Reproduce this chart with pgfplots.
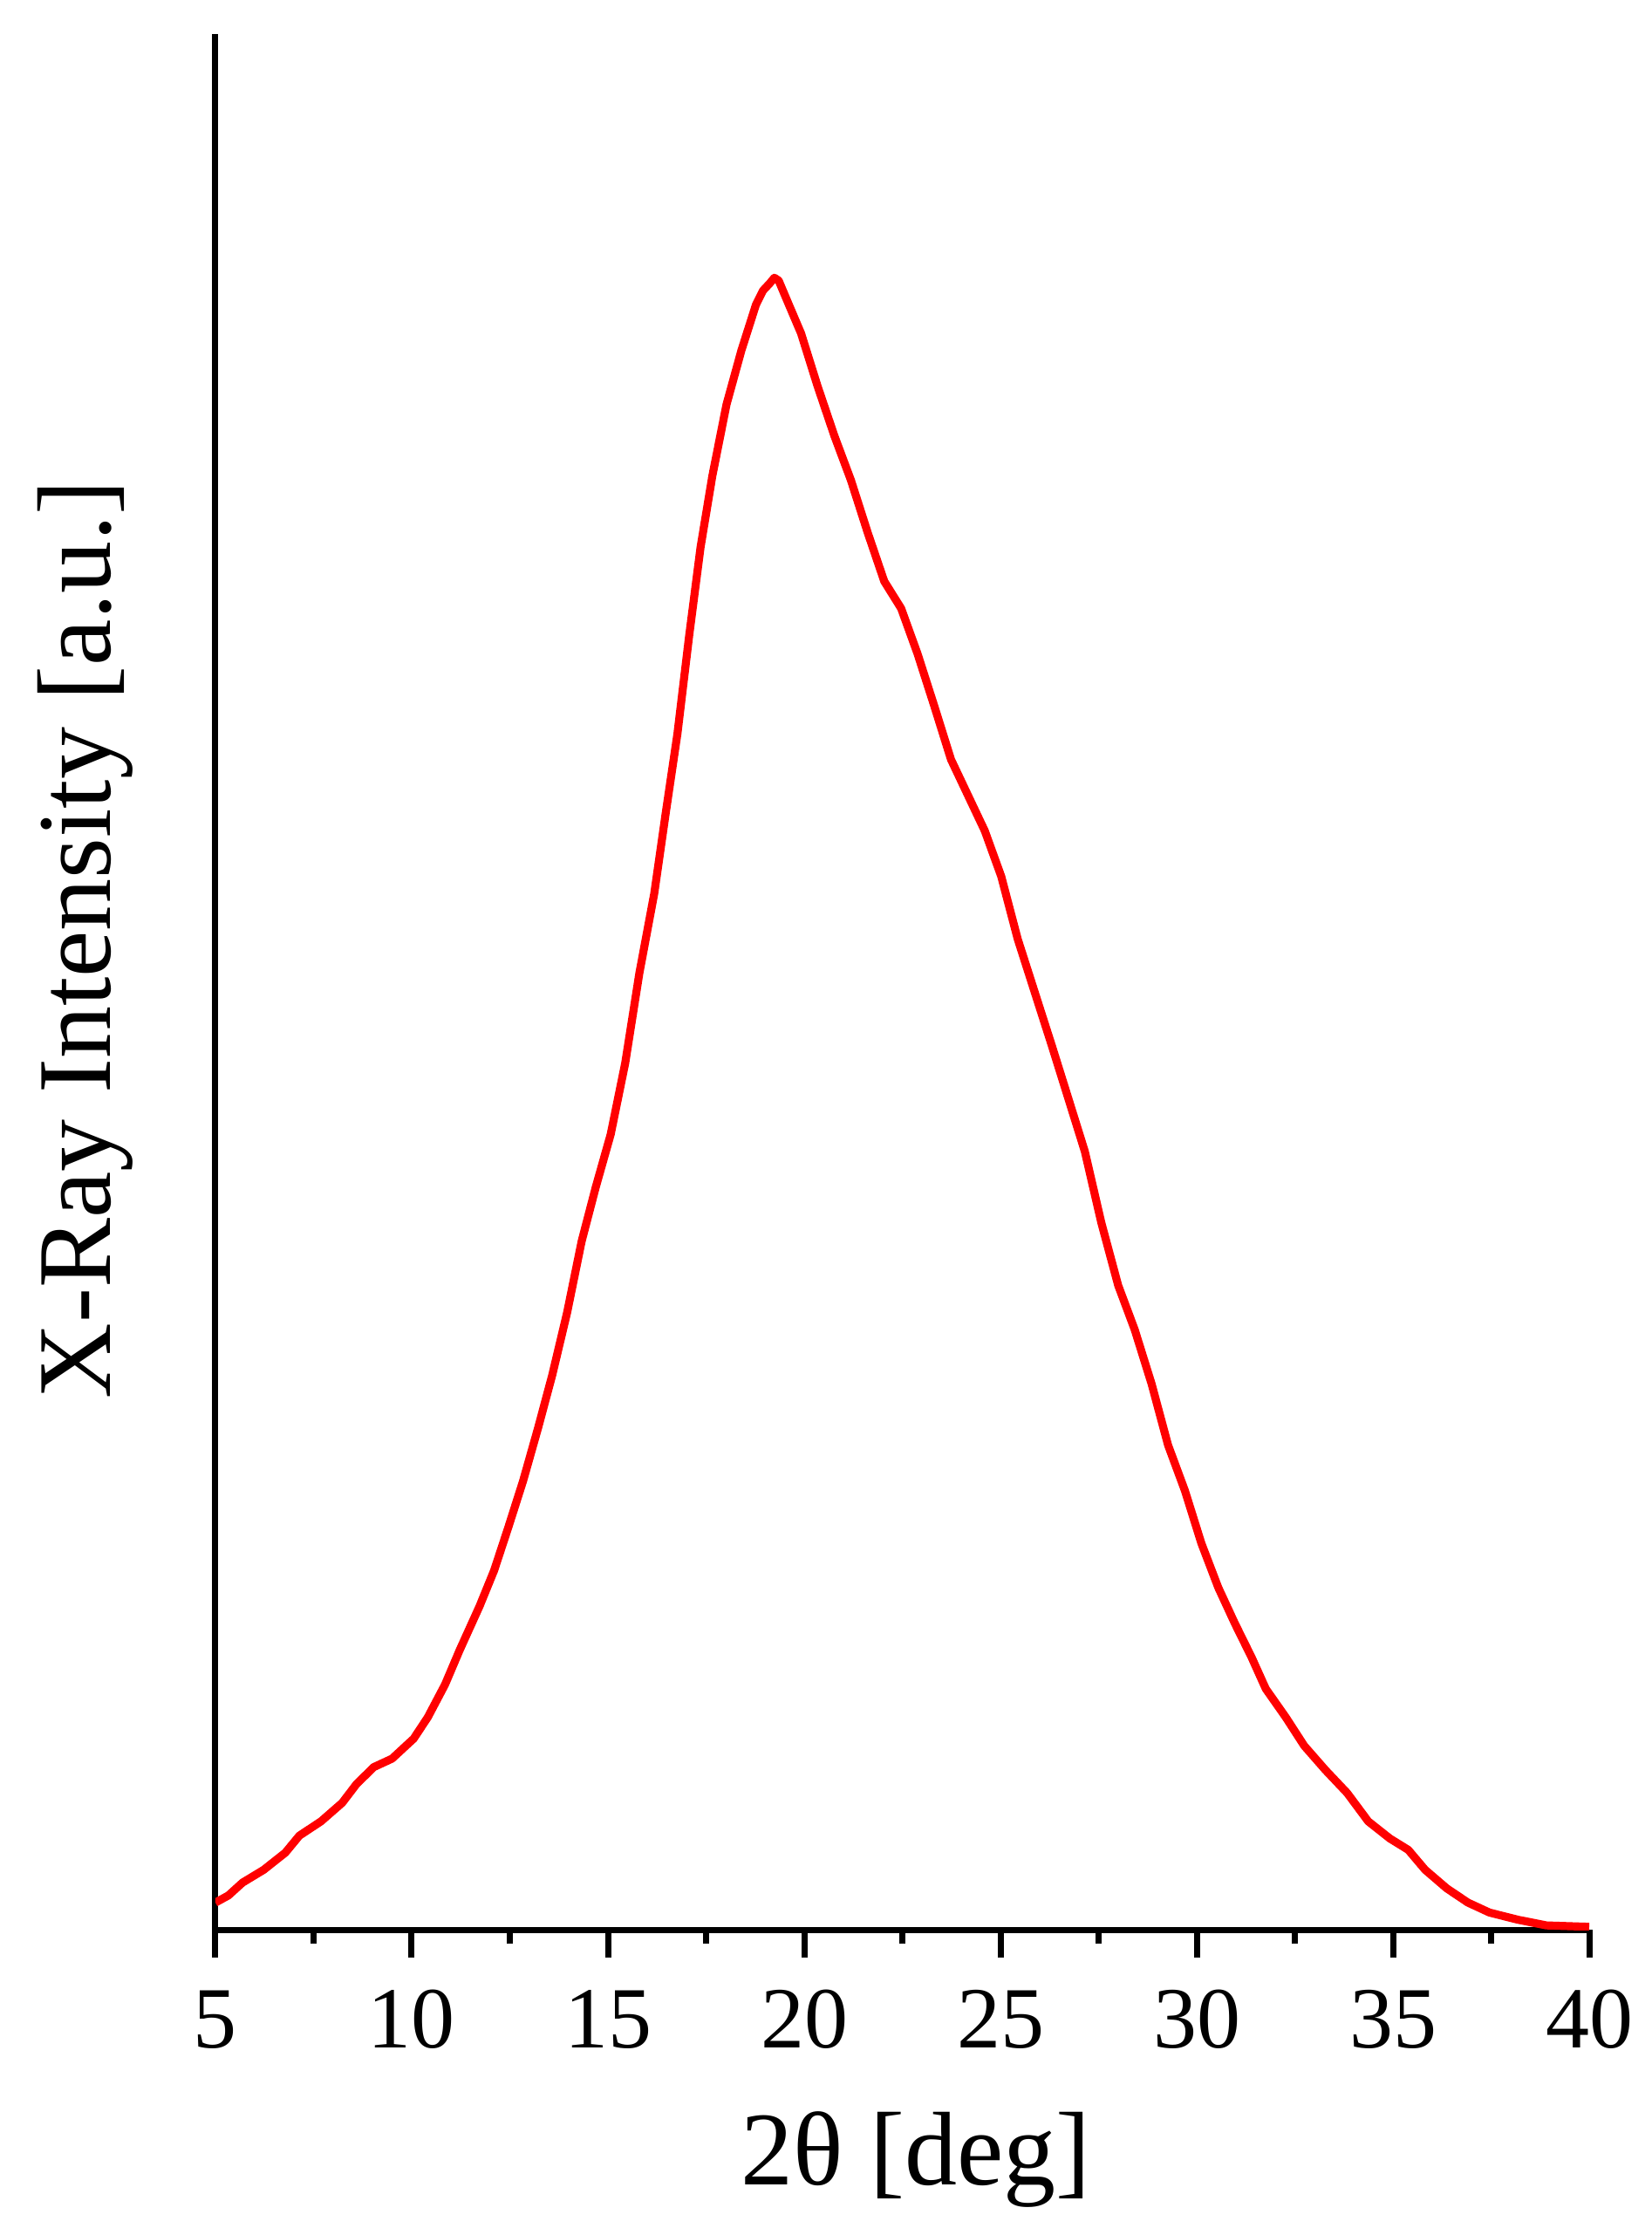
\documentclass[border=0pt]{standalone}
\usepackage{pgfplots}
\pgfplotsset{compat=1.18}
\usepackage{fontspec}
\setmainfont{Liberation Serif}
\begin{document}
\begin{tikzpicture}
\path[use as bounding box] (-61.75pt,-87.5pt) rectangle (411.75pt,553pt);
\begin{axis}[
  at={(0,0)}, anchor=south west,
  width=393.75pt, height=543.25pt, scale only axis,
  xmin=5, xmax=40, ymin=0, ymax=1330,
  axis x line*=bottom, axis y line*=left,
  xtick={5,10,...,40}, minor x tick num=1,
  ytick=\empty,
  tick align=outside,
  major tick length=8pt, minor tick length=4pt,
  axis line style={line width=1.75pt},
  every tick/.style={black, line width=1.75pt},
  /pgf/number format/assume math mode=true,
  xticklabel style={font=\fontsize{25}{30}\selectfont, anchor=base, yshift=-25.75pt},
  xticklabel shift=0pt,
  xlabel={2θ [deg]},
  ylabel={X-Ray Intensity [a.u.]},
  label style={font=\fontsize{30}{36}\selectfont},
  xlabel style={at={(axis description cs:0.51,-0.1348)}, anchor=base},
  ylabel style={at={(axis description cs:-0.0768,0.5223)}, anchor=base},
]
\addplot[line width=2.3pt, red, line join=round] coordinates {
(5.00,19) (5.33,24) (5.69,33) (6.23,42) (6.78,54) (7.14,66) (7.69,76)
(8.23,89) (8.59,102) (9.03,114) (9.50,120) (10.05,134) (10.41,149)
(10.85,172) (11.22,196) (11.73,227) (12.10,252) (12.47,283) (12.84,315)
(13.22,352) (13.58,389) (13.96,433) (14.33,483) (14.69,521) (15.07,558)
(15.44,608) (15.80,671) (16.18,727) (16.47,783) (16.77,839) (17.07,908)
(17.36,970) (17.66,1020) (18.02,1070) (18.40,1108) (18.77,1140)
(18.95,1150) (19.12,1155) (19.24,1159) (19.35,1157) (19.58,1142)
(19.92,1120) (20.34,1083) (20.77,1048) (21.19,1017) (21.62,980)
(22.04,946) (22.47,927) (22.89,895) (23.32,858) (23.74,821) (24.17,796)
(24.60,771) (25.02,739) (25.44,695) (25.87,658) (26.30,621) (26.72,584)
(27.15,546) (27.57,496) (28.00,452) (28.42,421) (28.85,383) (29.27,340)
(29.70,308) (30.12,271) (30.55,240) (30.97,215) (31.40,191) (31.76,169)
(32.27,149) (32.74,129) (33.28,112) (33.83,96) (34.37,76) (34.92,64)
(35.39,56) (35.82,42) (36.37,29) (36.91,19) (37.46,12) (38.18,7)
(38.91,3) (40.00,2)
};
\end{axis}
\end{tikzpicture}
\end{document}
